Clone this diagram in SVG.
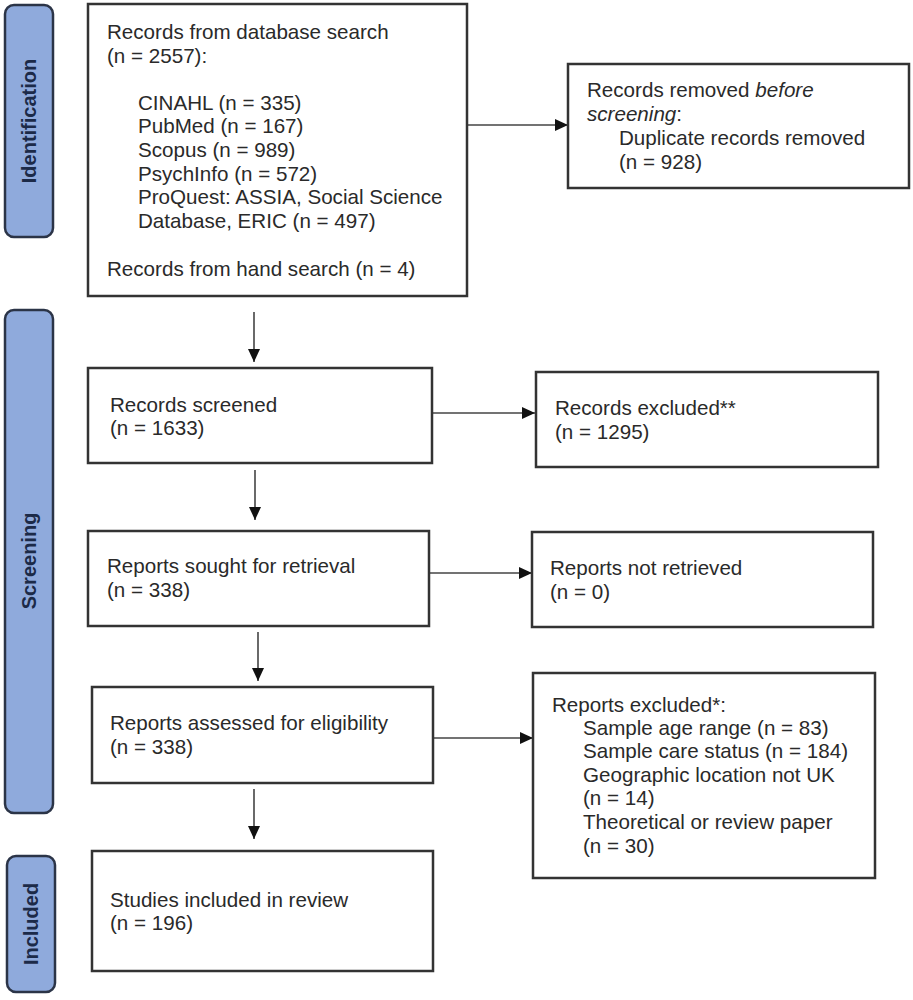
<svg xmlns="http://www.w3.org/2000/svg" width="913" height="1000" viewBox="0 0 913 1000">
<style>
  .box { fill: #ffffff; stroke: #333333; stroke-width: 2.5; }
  .phase { fill: #8faadc; stroke: #2b3447; stroke-width: 2.5; }
  .phase-t { font-family: "Liberation Sans", Arial, sans-serif; font-size: 20px; font-weight: bold; fill: #1c2a48; text-anchor: middle; }
  .t { font-family: "Liberation Sans", Arial, sans-serif; font-size: 20.6px; fill: #2a2a2a; }
  .conn { stroke: #444444; stroke-width: 1.6; fill: none; marker-end: url(#arrow); }
</style>
<defs>
  <marker id="arrow" markerUnits="userSpaceOnUse" markerWidth="13" markerHeight="12" refX="13" refY="6" orient="auto">
    <path d="M0,0 L13,6 L0,12 Z" fill="#111111"/>
  </marker>
</defs>
<rect width="913" height="1000" fill="#ffffff"/>

<g id="phase-identification">
  <rect class="phase" x="5" y="5" width="48" height="232" rx="9"/>
  <text class="phase-t" transform="translate(29,121) rotate(-90)" x="0" y="7">Identification</text>
</g>
<g id="phase-screening">
  <rect class="phase" x="5" y="310" width="48" height="503" rx="9"/>
  <text class="phase-t" transform="translate(29,561) rotate(-90)" x="0" y="7">Screening</text>
</g>
<g id="phase-included">
  <rect class="phase" x="7" y="856" width="48" height="136" rx="9"/>
  <text class="phase-t" transform="translate(31,924) rotate(-90)" x="0" y="7">Included</text>
</g>

<g id="connectors">
  <line class="conn" x1="467" y1="125" x2="568" y2="125"/>
  <line class="conn" x1="254" y1="312" x2="254" y2="362"/>
  <line class="conn" x1="432" y1="413" x2="535" y2="413"/>
  <line class="conn" x1="255" y1="470" x2="255" y2="520"/>
  <line class="conn" x1="429" y1="573" x2="532" y2="573"/>
  <line class="conn" x1="258" y1="632" x2="258" y2="681"/>
  <line class="conn" x1="433" y1="738" x2="533" y2="738"/>
  <line class="conn" x1="254" y1="789" x2="254" y2="839"/>
</g>

<g id="records-identified">
  <rect class="box" x="88" y="4" width="379" height="292"/>
  <text class="t" x="107" y="39">Records from database search</text>
  <text class="t" x="107" y="63">(n = 2557):</text>
  <text class="t" x="138" y="110">CINAHL (n = 335)</text>
  <text class="t" x="138" y="133">PubMed (n = 167)</text>
  <text class="t" x="138" y="157">Scopus (n = 989)</text>
  <text class="t" x="138" y="181">PsychInfo (n = 572)</text>
  <text class="t" x="138" y="204">ProQuest: ASSIA, Social Science</text>
  <text class="t" x="138" y="228">Database, ERIC (n = 497)</text>
  <text class="t" x="107" y="276">Records from hand search (n = 4)</text>
</g>

<g id="records-removed">
  <rect class="box" x="568" y="64" width="341" height="124"/>
  <text class="t" x="587" y="97">Records removed <tspan font-style="italic">before</tspan></text>
  <text class="t" x="587" y="121"><tspan font-style="italic">screening</tspan>:</text>
  <text class="t" x="619" y="145">Duplicate records removed</text>
  <text class="t" x="619" y="169">(n = 928)</text>
</g>

<g id="records-screened">
  <rect class="box" x="88" y="368" width="344" height="95"/>
  <text class="t" x="110" y="412">Records screened</text>
  <text class="t" x="110" y="435">(n = 1633)</text>
</g>

<g id="records-excluded">
  <rect class="box" x="536" y="372" width="342" height="95"/>
  <text class="t" x="555" y="415">Records excluded**</text>
  <text class="t" x="555" y="439">(n = 1295)</text>
</g>

<g id="reports-sought">
  <rect class="box" x="88" y="531" width="341" height="95"/>
  <text class="t" x="107" y="573">Reports sought for retrieval</text>
  <text class="t" x="107" y="597">(n = 338)</text>
</g>

<g id="reports-not-retrieved">
  <rect class="box" x="532" y="532" width="341" height="95"/>
  <text class="t" x="550" y="575">Reports not retrieved</text>
  <text class="t" x="550" y="599">(n = 0)</text>
</g>

<g id="reports-assessed">
  <rect class="box" x="92" y="687" width="341" height="96"/>
  <text class="t" x="110" y="730">Reports assessed for eligibility</text>
  <text class="t" x="110" y="754">(n = 338)</text>
</g>

<g id="reports-excluded">
  <rect class="box" x="533" y="673" width="342" height="205"/>
  <text class="t" x="552" y="712">Reports excluded*:</text>
  <text class="t" x="583" y="735">Sample age range (n = 83)</text>
  <text class="t" x="583" y="758">Sample care status (n = 184)</text>
  <text class="t" x="583" y="782">Geographic location not UK</text>
  <text class="t" x="583" y="805">(n = 14)</text>
  <text class="t" x="583" y="829">Theoretical or review paper</text>
  <text class="t" x="583" y="853">(n = 30)</text>
</g>

<g id="studies-included">
  <rect class="box" x="92" y="851" width="341" height="120"/>
  <text class="t" x="110" y="907">Studies included in review</text>
  <text class="t" x="110" y="930">(n = 196)</text>
</g>
</svg>
